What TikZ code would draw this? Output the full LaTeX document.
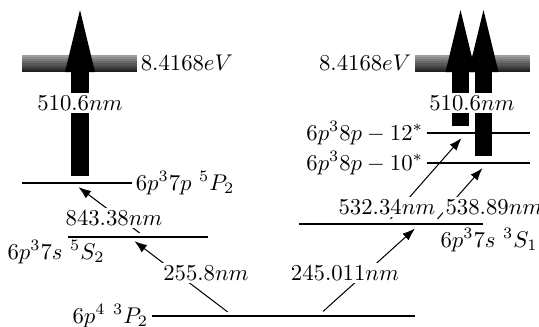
\documentclass[tikz,border=0pt]{standalone}
\usetikzlibrary{arrows.meta}
\begin{document}
\begin{tikzpicture}[x=0.44pt,y=-0.44pt,
  level/.style={line width=0.5pt},
  trans/.style={-{Latex[length=5.5pt,width=4pt]}, line width=0.45pt, shorten <=3pt, shorten >=3pt},
  big/.style={line width=7.9pt, shorten <=3pt, -{Triangle[length=27.3pt 0,width=13.2pt 0,line width=0pt]}},
  lbl/.style={fill=white, inner sep=1pt},
  txt/.style={inner sep=1.5pt}]
\useasboundingbox (0,0) rectangle (539,327);
% ionisation bars
\foreach \i [evaluate=\i as \c using int(38+\i*7)] in {0,...,7} {
  \fill[black!\c] (22,{55+\i*17/8}) rectangle (137,{55+(\i+1)*17/8});
  \fill[black!\c] (415,{55+\i*17/8}) rectangle (530,{55+(\i+1)*17/8});
}
\coordinate (barL) at (137,63);
\coordinate (barR) at (415,63);
\node[txt,anchor=west] (eL) at (barL) {$8.4168eV$};
\node[txt,anchor=east] (eR) at (barR) {$8.4168eV$};
% levels
\coordinate (p5a) at (22,183);  \coordinate (p5b) at (132,183);
\coordinate (s5a) at (68,237);  \coordinate (s5b) at (208,237);
\coordinate (ga)  at (152,316); \coordinate (gb)  at (415,316);
\coordinate (t12a) at (427,133); \coordinate (t12b) at (530,133);
\coordinate (t10a) at (427,163); \coordinate (t10b) at (530,163);
\coordinate (s3a) at (299,224); \coordinate (s3b) at (483,224);
\draw[level] (p5a) -- (p5b);
\draw[level] (s5a) -- (s5b);
\draw[level] (ga) -- (gb);
\draw[level] (t12a) -- (t12b);
\draw[level] (t10a) -- (t10b);
\draw[level] (s3a) -- (s3b);
\node[txt,anchor=west] (p5l) at (p5b) {$6p^37p\ ^5P_2$};
\node[txt] (s5l) at (56,252) {$6p^37s\ ^5S_2$};
\node[txt,anchor=east] (gl) at (ga) {$6p^4\ ^3P_2$};
\node[txt,anchor=east] (t12l) at (t12a) {$6p^38p-12^*$};
\node[txt,anchor=east] (t10l) at (t10a) {$6p^38p-10^*$};
\node[txt] (s3l) at (489,240) {$6p^37s\ ^3S_1$};
% big arrows
\coordinate (bL0) at (80,183);   \coordinate (bL1) at (80,10);
\coordinate (bR0) at (460.5,133); \coordinate (bR1) at (460.5,10);
\coordinate (bS0) at (483.5,163); \coordinate (bS1) at (483.5,10);
\draw[big] (bL0) -- (bL1);
\draw[big] (bR0) -- (bR1);
\draw[big] (bS0) -- (bS1);
\node[lbl] (wL) at (80,103) {$510.6nm$};
\node[lbl] (wR) at (472,103) {$510.6nm$};
% thin transitions
\coordinate (a1) at (145,237); \coordinate (a2) at (73,183);
\coordinate (b1) at (233,316); \coordinate (b2) at (129,237);
\coordinate (c1) at (318,316); \coordinate (c2) at (420,224);
\coordinate (d1) at (386,224); \coordinate (d2) at (466,133);
\coordinate (e1) at (433,224); \coordinate (e2) at (487,163);
\draw[trans] (a1) -- (a2);
\draw[trans] (b1) -- (b2);
\draw[trans] (c1) -- (c2);
\draw[trans] (d1) -- (d2);
\draw[trans] (e1) -- (e2);
\node[lbl] (la) at (114,218) {$843.38nm$};
\node[lbl] (lb) at (206,273) {$255.8nm$};
\node[lbl] (lc) at (345,273) {$245.011nm$};
\node[lbl] (ld) at (387,207) {$532.34nm$};
\node[lbl] (le) at (494,207) {$538.89nm$};
\end{tikzpicture}
\end{document}
